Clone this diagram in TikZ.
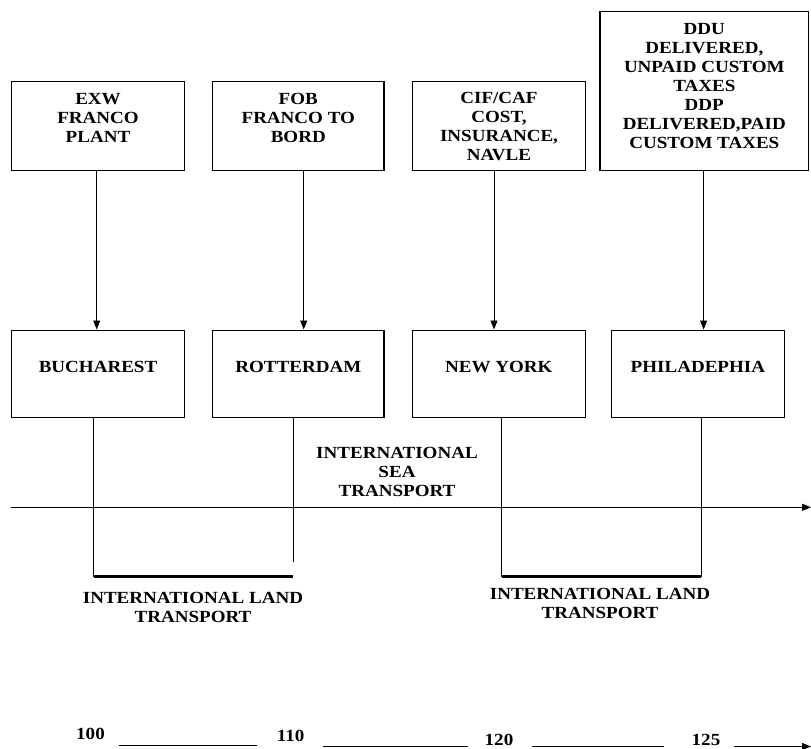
\documentclass[tikz,border=0pt]{standalone}
\usepackage{fontspec}
\setmainfont{Liberation Serif}[FakeStretch=1.12]
\usetikzlibrary{arrows.meta}
\begin{document}
\begin{tikzpicture}[x=1pt,y=-1pt,
  box/.style={draw, line width=1.1pt, inner sep=0pt},
  txt/.style={font=\fontsize{17}{19}\selectfont\bfseries, align=center, inner sep=0pt},
  arr/.style={line width=0.9pt, -{Triangle[length=9pt,width=7pt]}},
  ln/.style={line width=0.9pt},
  thickln/.style={line width=2.6pt}]
\useasboundingbox (0,0) rectangle (811,749);
% top boxes
\node[box, minimum width=173.3pt, minimum height=89pt] (t1) at (98,126.2) {};
\node[box, minimum width=171.3pt, minimum height=89pt] (t2) at (298.3,126.2) {};
\node[box, minimum width=173.3pt, minimum height=89pt] (t3) at (499,126.2) {};
\node[box, minimum width=208.6pt, minimum height=159pt] (t4) at (704.3,91.2) {};
\node[txt] (t1l) at (98,118) {EXW\\FRANCO\\PLANT};
\node[txt] (t2l) at (298.3,118) {FOB\\FRANCO TO\\BORD};
\node[txt] (t3l) at (499,127) {CIF/CAF\\COST,\\INSURANCE,\\NAVLE};
\node[txt] (t4l) at (704.3,86) {DDU\\DELIVERED,\\UNPAID CUSTOM\\TAXES\\DDP\\DELIVERED,PAID\\CUSTOM TAXES};
% bottom boxes
\node[box, minimum width=173.3pt, minimum height=87.3pt] (b1) at (98,373.7) {};
\node[box, minimum width=171.3pt, minimum height=87.3pt] (b2) at (298.3,373.7) {};
\node[box, minimum width=173.3pt, minimum height=87.3pt] (b3) at (498.8,373.7) {};
\node[box, minimum width=172.8pt, minimum height=87.3pt] (b4) at (697.9,373.7) {};
\node[txt] (b1l) at (98,366.7) {BUCHAREST};
\node[txt] (b2l) at (298.3,366.7) {ROTTERDAM};
\node[txt] (b3l) at (498.8,366.7) {NEW YORK};
\node[txt] (b4l) at (697.9,366.7) {PHILADEPHIA};
% arrows
\draw[arr] ([xshift=-1.3pt]t1.south) -- ([xshift=-1.3pt]t1.south |- b1.north);
\draw[arr] ([xshift=5.4pt]t2.south) -- ([xshift=5.4pt]t2.south |- b2.north);
\draw[arr] ([xshift=-5pt]t3.south) -- ([xshift=-5pt]t3.south |- b3.north);
\draw[arr] ([xshift=-0.7pt]t4.south) -- ([xshift=-0.7pt]t4.south |- b4.north);
% drop lines
\coordinate (d1) at (93.6,576.7);
\coordinate (d2) at (293.3,561.7);
\coordinate (d3) at (501.8,576.7);
\coordinate (d4) at (701,576.7);
\draw[ln] (b1.south -| d1) -- (d1);
\draw[ln] (b2.south -| d2) -- (d2);
\draw[ln] (b3.south -| d3) -- (d3);
\draw[ln] (b4.south -| d4) -- (d4);
\draw[thickln] (d1) -- (d1 -| d2);
\draw[thickln] (d3) -- (d4);
% sea line
\coordinate (hL) at (11,507.3);
\coordinate (hR) at (811,507.3);
\draw[arr] (hL) -- (hR);
\node[txt] (sea) at (397,472) {INTERNATIONAL\\SEA\\TRANSPORT};
\node[txt] (land1) at (193,607) {INTERNATIONAL LAND\\TRANSPORT};
\node[txt] (land2) at (600,603) {INTERNATIONAL LAND\\TRANSPORT};
% number row
\node[txt] (n100) at (90.5,734) {100};
\node[txt] (n110) at (290.7,736) {110};
\node[txt] (n120) at (499,740) {120};
\node[txt] (n125) at (706,740) {125};
\coordinate (s1a) at (119,745); \coordinate (s1b) at (257,745);
\coordinate (s2a) at (323,746); \coordinate (s2b) at (468,746);
\coordinate (s3a) at (532,746.5); \coordinate (s3b) at (664,746.5);
\coordinate (s4a) at (733.6,746.5); \coordinate (s4b) at (811,746.5);
\draw[ln] (s1a) -- (s1b);
\draw[ln] (s2a) -- (s2b);
\draw[ln] (s3a) -- (s3b);
\draw[arr] (s4a) -- (s4b);
\end{tikzpicture}
\end{document}
